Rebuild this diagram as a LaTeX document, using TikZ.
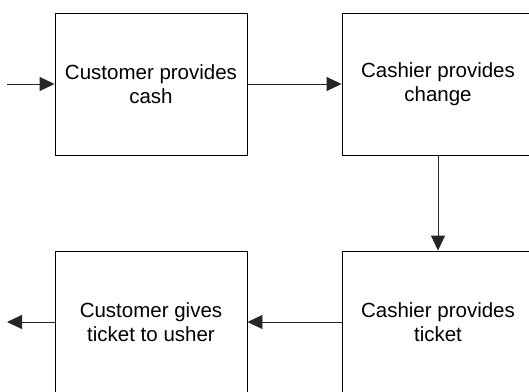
\documentclass[tikz,border=0pt]{standalone}
\usepackage{fontspec}
\setmainfont{Liberation Sans}
\usetikzlibrary{arrows.meta}
\begin{document}
\begin{tikzpicture}[x=1pt,y=-1pt,
  stepbox/.style={draw=black, line width=0.9pt, minimum width=192pt, minimum height=142pt, align=center, inner sep=0pt, font=\fontsize{20.5}{24}\selectfont},
  flow/.style={draw=black!85, line width=0.9pt, -{Triangle[length=15pt,width=14pt]}}]
\useasboundingbox (0,0) rectangle (529,391);
\clip (0,0) rectangle (529,391);
\node[stepbox] (a) at (151,84) {Customer provides\\cash};
\node[stepbox] (b) at (438,84) {Cashier provides\\change};
\node[stepbox] (c) at (438,322) {Cashier provides\\ticket};
\node[stepbox] (d) at (151,322) {Customer gives\\ticket to usher};
\coordinate (in) at (7,84);
\coordinate (out) at (7,322);
\draw[flow] (in) -- (a.west);
\draw[flow] (a.east) -- (b.west);
\draw[flow] (b.south) -- (c.north);
\draw[flow] (c.west) -- (d.east);
\draw[flow] (d.west) -- (out);
\end{tikzpicture}
\end{document}
